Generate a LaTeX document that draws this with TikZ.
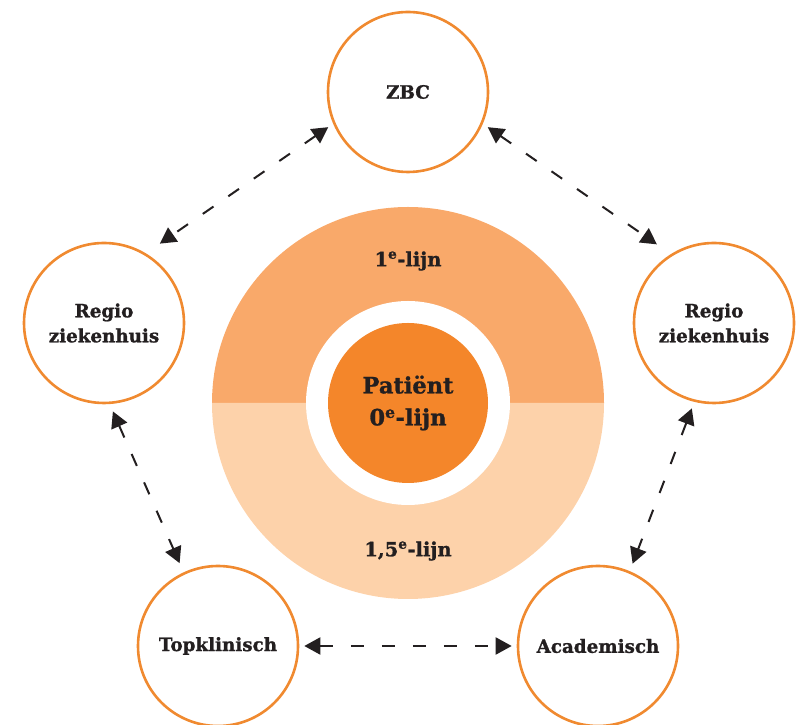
\documentclass[tikz,border=0pt]{standalone}
\usepackage{fontspec}
\setmainfont{DejaVu Serif}[BoldFeatures={FakeBold=1.2}]
\usetikzlibrary{arrows.meta,positioning}

\definecolor{rim}{HTML}{F08A30}
\definecolor{ringtop}{HTML}{F9A96A}
\definecolor{ringbot}{HTML}{FDD2AA}
\definecolor{core}{HTML}{F4862A}
\definecolor{ink}{HTML}{231F20}

\begin{document}
\begin{tikzpicture}[x=1pt, y=1pt, on grid, text=ink,
    zh/.style={circle, draw=rim, line width=2.6pt, minimum size=160pt, inner sep=0pt,
               align=center, font=\bfseries\fontsize{18.3}{25}\selectfont},
    lijn/.style={font=\bfseries\fontsize{19.5}{25}\selectfont},
    link/.style={<->, >={Triangle[length=16pt,width=17pt]}, color=ink,
                 line width=2pt, dash pattern=on 13pt off 18pt}]
   \useasboundingbox (0,0) rectangle (798,725);

   % ring around the patient
   \fill[ringtop] (212,322) arc[start angle=180, end angle=0, radius=196] -- cycle;
   \fill[ringbot] (212,322) arc[start angle=180, end angle=360, radius=196] -- cycle;
   \fill[white] (408,322) circle[radius=102];
   \node[circle, fill=core, minimum size=160pt, inner sep=0pt, align=center,
         font=\bfseries\fontsize{22.5}{32}\selectfont] (pat) at (408,322)
         {Patiënt\\0\textsuperscript{e}-lijn};
   \node[lijn] (eerste) at (408,464) {1\textsuperscript{e}-lijn};
   \node[lijn] (halfweg) at (408,174) {1,5\textsuperscript{e}-lijn};

   \node[zh] (zbc)  at (408,633)            {ZBC};
   \node[zh] (regl) at (104,402)            {Regio\\ziekenhuis};
   \node[zh] (regr) [right=610pt of regl]   {Regio\\ziekenhuis};
   \node[zh] (topk) at (218,79)             {Topklinisch};
   \node[zh] (acad) [right=380pt of topk]   {Academisch};

   \path[link]
    (zbc.203)   edge[shorten <=6pt, shorten >=17pt] (regl.59)
    (zbc.337)   edge[shorten <=6pt, shorten >=17pt] (regr.122)
    (regl.274)  edge[shorten <=8pt, shorten >=10pt] (topk.115)
    (regr.256)  edge[shorten <=7pt, shorten >=8pt]  (acad.67)
    (topk)      edge[shorten <=5pt, shorten >=5pt]  (acad);
\end{tikzpicture}
\end{document}
